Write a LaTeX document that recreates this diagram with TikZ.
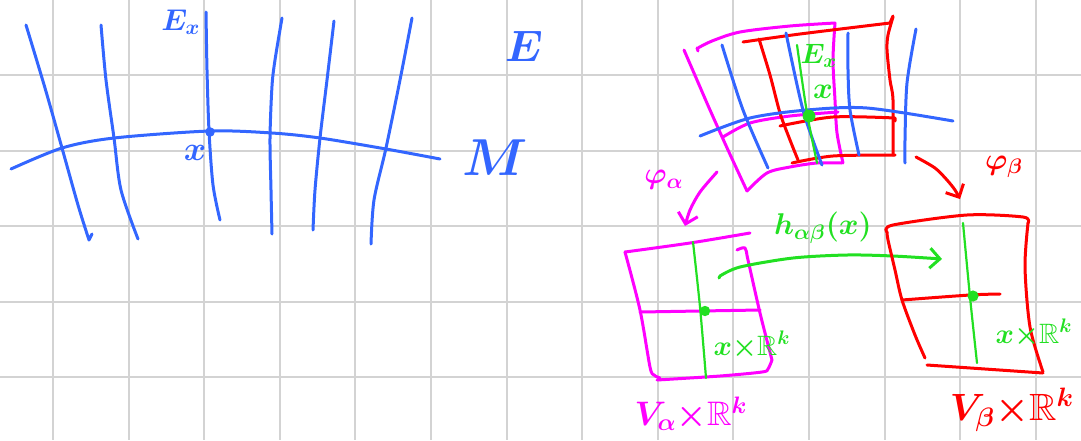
\RequirePackage{fix-cm}
\documentclass[tikz,border=0pt]{standalone}
\usepackage{amsmath,amssymb}
\usepackage{tikz}
\usetikzlibrary{arrows.meta}
\definecolor{gridgray}{HTML}{D3D3D3}
\definecolor{penblue}{HTML}{3366FF}
\definecolor{penmag} {HTML}{FF00FF}
\definecolor{penred} {HTML}{FF0000}
\definecolor{pengreen}{HTML}{22E022}
\newcommand{\penfont}[1]{\fontsize{#1}{#1}\selectfont\boldmath}

\begin{document}
\begin{tikzpicture}[x=0.5pt,y=-0.5pt,
    pen/.style={line width=1.5pt,line cap=round,line join=round},
    thinpen/.style={line width=1.1pt,line cap=round,line join=round},
    handarrow/.style={-{Straight Barb[length=5pt,width=10pt]}},
    lbl/.style={inner sep=0pt}]
    \useasboundingbox (0,0) rectangle (1081,440);
    % grid paper
    \foreach \gx in {0,...,13} {
      \draw[gridgray,line width=1pt] (53+75.6*\gx,0) -- (53+75.6*\gx,440);
    }
    \foreach \gy in {1,...,5} {
      \draw[gridgray,line width=1pt] (0,-0.6+75.6*\gy) -- (1081,-0.6+75.6*\gy);
    }

    % left: bundle E over M
    \draw[pen,penblue] plot[smooth] coordinates {(26,25) (45,88) (62,148) (78,205) (89,240)} -- (92,234);
    \draw[pen,penblue] plot[smooth] coordinates {(101,25) (106,80) (114,138) (121,190) (138,239)};
    \draw[pen,penblue] plot[smooth] coordinates {(206,12) (207,70) (209,131) (213,185) (220,220)};
    \draw[pen,penblue] plot[smooth] coordinates {(282,18) (275,60) (272,86) (270,138) (271,190) (272,234)};
    \draw[pen,penblue] plot[smooth] coordinates {(334,21) (327,80) (320,138) (315,190) (313,230)};
    \draw[pen,penblue] plot[smooth] coordinates {(412,18) (400,80) (386,148) (374,200) (371,244)};
    \draw[pen,penblue] plot[smooth] coordinates {(11,169) (62,148) (114,138) (210,131) (272,133) (320,138) (386,149) (440,159)};
    \fill[penblue] (210,132) circle[radius=2.4pt];
    \node[lbl,penblue,font=\penfont{15}] (Ex) at (181,22) {$E_x$};
    \node[lbl,penblue,font=\penfont{17}] (x) at (195,153) {$x$};
    \node[lbl,penblue,font=\penfont{22}] (E) at (524,46) {$E$};
    \node[lbl,penblue,font=\penfont{26}] (M) at (495,158) {$M$};

    % right top: local pieces of E
    \draw[pen,penmag] (698,51) -- (697,48) plot[smooth] coordinates {(698,48) (712,41) (740,32) (790,26) (835,23)};
    \draw[pen,penmag] plot[smooth] coordinates {(684,50) (697,80) (710,110) (728,150) (747,191)};
    \draw[pen,penmag] plot[smooth] coordinates {(747,191) (767,173) (790,167) (817,163) (842,163)};
    \draw[pen,penmag] plot[smooth] coordinates {(835,23) (833,60) (835,100) (837,133) (843,163)};
    \draw[pen,penmag] plot[smooth] coordinates {(723,137) (750,123) (790,116) (838,112)};

    \draw[pen,penred] plot[smooth] coordinates {(743,42) (800,34) (890,23)} -- (893,16);
    \draw[pen,penred] plot[smooth] coordinates {(893,17) (888,35) (887,50) (890,80) (893,100) (893,155)};
    \draw[pen,penred] plot[smooth] coordinates {(792,163) (833,156) (895,155)};
    \draw[pen,penred] plot[smooth] coordinates {(759,39) (770,75) (780,113) (790,140) (798,160)};
    \draw[pen,penred] plot[smooth] coordinates {(780,126) (833,117) (895,118)} -- (895,121);

    \draw[pen,penblue] plot[smooth] coordinates {(700,136) (750,118) (807,110) (867,108) (953,121)};
    \draw[pen,penblue] plot[smooth] coordinates {(722,45) (743,110) (768,168)};
    \draw[pen,penblue] plot[smooth] coordinates {(786,33) (803,110) (822,165)};
    \draw[pen,penblue] plot[smooth] coordinates {(848,33) (848,70) (850,110) (859,155)};
    \draw[pen,penblue] plot[smooth] coordinates {(916,29) (907,83) (905,140) (905,163)};

    \draw[thinpen,pengreen] plot[smooth] coordinates {(797,45) (807,113) (817,163)};
    \fill[pengreen] (809,116) circle[radius=3.2pt];
    \node[lbl,pengreen,font=\penfont{14}] (Exg) at (819,56) {$E_x$};
    \node[lbl,pengreen,font=\penfont{15}] (xg) at (823,92) {$x$};

    % charts
    \draw[pen,penmag,handarrow] plot[smooth] coordinates {(717,172) (700,192) (690,210) (685,226)};
    \node[lbl,penmag,font=\penfont{15}] (phia) at (664,180) {$\varphi_\alpha$};
    \draw[pen,penred,handarrow] plot[smooth] coordinates {(916,157) (935,168) (947,180) (955,190) (960,199)};
    \node[lbl,penred,font=\penfont{15}] (phib) at (1004,167) {$\varphi_\beta$};

    % bottom left: V_alpha x R^k
    \draw[pen,penmag] plot[smooth] coordinates {(625,252) (690,243) (750,233)};
    \draw[pen,penmag] plot[smooth] coordinates {(625,252) (640,310) (650,367) (654,375) (660,378)};
    \draw[pen,penmag] plot[smooth] coordinates {(657,380) (720,376) (762,372) (768,369) (772,360)};
    \draw[pen,penmag] plot[smooth] coordinates {(737,250) (745,248) (748,260) (760,313) (772,360)};
    \draw[pen,penmag] (640,312) -- (760,310);
    \draw[thinpen,pengreen] plot[smooth] coordinates {(693,242) (700,307) (706,378)};
    \fill[pengreen] (705,311) circle[radius=2.6pt];
    \node[lbl,pengreen,font=\penfont{14}] (fiba) at (752,345) {$x{\times}\mathbb{R}^k$};
    \node[lbl,penmag,font=\penfont{17}] (Va) at (691,414) {$V_\alpha{\times}\mathbb{R}^k$};

    % transition map
    \draw[pen,pengreen,handarrow] (719,278) -- (720,276) plot[smooth] coordinates {(720,276) (740,267) (793,258) (847,255) (893,256) (942,259)};
    \node[lbl,pengreen,font=\penfont{15}] (hab) at (823,228) {$h_{\alpha\beta}(x)$};

    % bottom right: V_beta x R^k
    \draw[pen,penred] plot[smooth] coordinates {(887,232) (893,225) (967,215) (1023,217) (1028,223)};
    \draw[pen,penred] plot[smooth] coordinates {(887,232) (888,240) (895,270) (902,300) (915,335) (925,358)};
    \draw[pen,penred] plot[smooth] coordinates {(1028,223) (1025,267) (1030,327) (1043,372)};
    \draw[pen,penred] (927,365) -- (1043,373);
    \draw[pen,penred] plot[smooth] coordinates {(902,300) (970,295) (1000,294)};
    \draw[thinpen,pengreen] plot[smooth] coordinates {(963,223) (970,297) (977,363)};
    \fill[pengreen] (973,296) circle[radius=2.8pt];
    \node[lbl,pengreen,font=\penfont{14}] (fibb) at (1034,333) {$x{\times}\mathbb{R}^k$};
    \node[lbl,penred,font=\penfont{19}] (Vb) at (1012,410) {$V_\beta{\times}\mathbb{R}^k$};
\end{tikzpicture}
\end{document}
